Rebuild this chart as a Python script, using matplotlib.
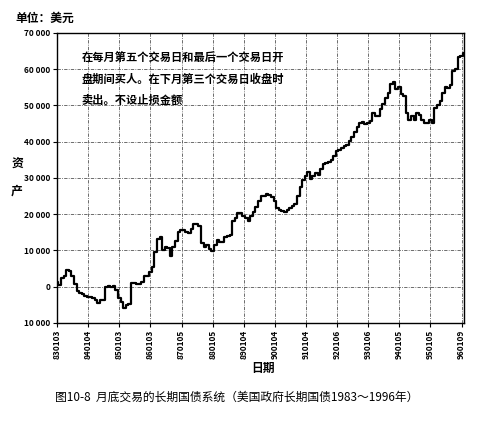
import matplotlib
matplotlib.use('Agg')
import matplotlib.pyplot as plt

plt.rcParams['font.family'] = ['Noto Sans CJK SC', 'DejaVu Sans']

# 月度资产（美元），1983年1月起
equity = [
    1400, 500, 2300, 3000, 4600, 4300, 2800, 800, -1200, -1700,
    -2100, -2600, -2800, -2900, -3000, -3800, -4600, -3700, -3700, -200,
    200, -100, 200, -1000, -3000, -4200, -6000, -5100, -4800, 900,
    1100, 600, 700, 1200, 3000, 3000, 4000, 5500, 9500, 13100,
    13600, 10000, 11000, 10600, 8500, 11000, 12500, 15000, 15700, 15600,
    15000, 14800, 15900, 17200, 17300, 16600, 12000, 11000, 11500, 10300,
    9700, 11500, 12900, 12200, 12400, 13800, 14000, 14300, 18000, 18800,
    20400, 20300, 19400, 18900, 18000, 19500, 20600, 22000, 23500, 24900,
    24900, 25600, 25300, 24700, 23500, 21800, 21200, 20800, 20600, 21200,
    21700, 22300, 22800, 24900, 27500, 29300, 30600, 31500, 29800, 30600,
    31300, 30800, 32500, 33700, 34200, 34400, 34800, 36000, 37300, 37600,
    38200, 38700, 39200, 40100, 41300, 42600, 44000, 45000, 45300, 44800,
    45000, 45600, 47900, 47000, 47200, 49000, 50500, 52000, 53500, 55800,
    56500, 54500, 55200, 53000, 52500, 47900, 46000, 47200, 46000, 47900,
    47300, 46000, 45200, 45000, 46000, 45200, 49300, 50000, 51200, 53500,
    55000, 54800, 55500, 59500, 60100, 63200, 63500, 64500,
]

x_ticks = list(range(0, 157, 12))
x_labels = ['830103', '840104', '850103', '860103', '870105', '880105', '890104',
            '900104', '910104', '920106', '930106', '940105', '950105', '960109']
y_ticks = [-10000, 0, 10000, 20000, 30000, 40000, 50000, 60000, 70000]
y_labels = ['10 000', '0', '10 000', '20 000', '30 000', '40 000', '50 000', '60 000', '70 000']

note = ('在每月第五个交易日和最后一个交易日开\n'
        '盘期间买人。在下月第三个交易日收盘时\n'
        '卖出。不设止损金额')

fig = plt.figure(figsize=(4.8, 4.21), dpi=100)
ax = fig.add_axes([0.119, 0.233, 0.848, 0.689])

months = list(range(len(equity)))
ax.plot(months, equity, drawstyle='steps-mid', color='black', lw=1.6)

ax.set_xlim(0, len(equity) - 1)
ax.set_ylim(-10000, 70000)
ax.set_xticks(x_ticks)
ax.set_xticklabels(x_labels, rotation=90, fontsize=6, fontweight='bold')
ax.set_yticks(y_ticks)
ax.set_yticklabels(y_labels, fontsize=6, fontweight='bold')
ax.tick_params(length=3, width=0.8, pad=2)
ax.grid(True, linestyle=(0, (4, 1.5, 1, 1.5)), color='#555555', lw=0.6)
for s in ax.spines.values():
    s.set_linewidth(1.0)

ax.text(0.06, 0.935, note, transform=ax.transAxes, fontsize=8.1,
        fontweight='bold', va='top', ha='left', linespacing=1.8)

fig.text(15 / 480, 1 - 18 / 421, '单位：美元', fontsize=8.5, fontweight='bold',
         ha='left', va='center')
fig.text(17 / 480, 1 - 178 / 421, '资\n\n产', fontsize=8.5, fontweight='bold',
         ha='center', va='center', linespacing=1.05)
fig.text(263 / 480, 1 - 368 / 421, '日期', fontsize=8.5, fontweight='bold',
         ha='center', va='center')
fig.text(237 / 480, 1 - 397 / 421,
         '图10-8  月底交易的长期国债系统（美国政府长期国债1983～1996年）',
         fontsize=8.5, ha='center', va='center')

fig.savefig('out.png', dpi=100)
